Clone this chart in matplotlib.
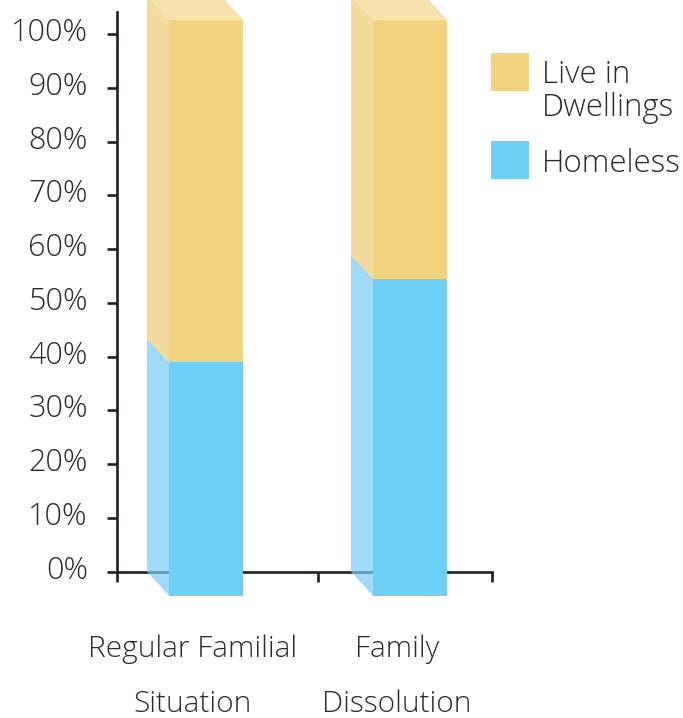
import matplotlib
matplotlib.use("Agg")
import matplotlib.pyplot as plt
from matplotlib.patches import Rectangle, Polygon

# data
categories = ["Regular Familial\nSituation", "Family\nDissolution"]
series_names = ["Homeless", "Live in\nDwellings"]
homeless = [40.5, 55.0]
dwellings = [59.5, 45.0]
ytick_vals = [0, 10, 20, 30, 40, 50, 60, 70, 80, 90, 100]

front_cols = ["#6DCFF6", "#F1D27E"]
side_cols = ["#A0DCF8", "#F4DC9E"]
top_col = "#F5E1AB"
ink = "#231F20"
txt = "#2b2b2b"

plt.rcParams['font.family'] = ['Open Sans', 'DejaVu Sans']

W, H = 683, 718
fig = plt.figure(figsize=(W / 100, H / 100), dpi=100)


def side_color(hexc, a=0.7):
    # colour that looks like hexc on white when drawn with alpha a
    r, g, b = matplotlib.colors.to_rgb(hexc)
    return tuple(max(0, (c - (1 - a)) / a) for c in (r, g, b)), a


# axes frame (pixel layout of the reference)
left, right, bottom, top = 117, 492, 571.7, 11.7
pos = [left / W, 1 - bottom / H, (right - left) / W, (bottom - top) / H]
px_x = 204.0  # pixels per category step
xlim = ((left - 184) / px_x, (right - 184) / px_x)

ax = fig.add_axes(pos)
ax.set_xlim(*xlim)
ax.set_ylim(0, (bottom - top) / 5.375)
for s in ["top", "right"]:
    ax.spines[s].set_visible(False)
for s in ["left", "bottom"]:
    ax.spines[s].set_color(ink)
    ax.spines[s].set_linewidth(1.9)
ax.set_yticks(ytick_vals)
ax.set_yticklabels([f"{v}%" for v in ytick_vals])
ax.set_xticks([xlim[0], (318 - 184) / px_x, xlim[1]])
ax.set_xticklabels([])
ax.tick_params(axis="y", length=7.5, width=1.9, color=ink, pad=13.5,
               labelsize=22, labelcolor=txt)
ax.tick_params(axis="x", length=7.5, width=1.9, color=ink)
for lbl in ax.get_yticklabels():
    lbl.set_fontweight("light")
    lbl.set_transform(lbl.get_transform() + matplotlib.transforms.ScaledTranslation(0, 0.05, fig.dpi_scale_trans))

# bars axes: back face 0..100 spans 576 px
axb = fig.add_axes(pos)
axb.set_xlim(*xlim)
axb.set_ylim(0, (bottom - top) / 5.76)
axb.axis("off")

w = 74 / px_x
dx = 22 / px_x
dy = -24 / 5.76

for i in range(len(categories)):
    x0 = i - w / 2
    segs = [(0, homeless[i]), (homeless[i], homeless[i] + dwellings[i])]
    for k, (b, t) in enumerate(segs):
        sc, a = side_color(side_cols[k])
        axb.add_patch(Polygon([(x0, b), (x0 + dx, b + dy), (x0 + dx, t + dy), (x0, t)],
                              closed=True, facecolor=sc, alpha=a, lw=0, clip_on=False))
        axb.add_patch(Rectangle((x0 + dx, b + dy), w, t - b, facecolor=front_cols[k],
                                lw=0, clip_on=False))
    t = segs[-1][1]
    axb.add_patch(Polygon([(x0, t), (x0 + w, t), (x0 + w + dx, t + dy), (x0 + dx, t + dy)],
                          closed=True, facecolor=top_col, lw=0, clip_on=False))

# category labels
tr = matplotlib.transforms.blended_transform_factory(ax.transData, fig.transFigure)
for i, cat in enumerate(categories):
    for j, line in enumerate(cat.split("\n")):
        ax.text(i + dx * 0.4, 1 - (657 + 55 * j) / H, line, transform=tr,
                ha="center", va="baseline", fontsize=21.5, color=txt,
                fontweight="light")

# legend
leg_y = [141, 53]
leg_base = [[172], [83, 116]]
for k in [1, 0]:
    fig.patches.append(Rectangle((491 / W, 1 - (leg_y[k] + 38) / H), 38 / W, 38 / H,
                                 facecolor=front_cols[k], lw=0, transform=fig.transFigure))
    for j, line in enumerate(series_names[k].split("\n")):
        fig.text(542 / W, 1 - leg_base[k][j] / H, line, ha="left", va="baseline",
                 fontsize=22.5, color=txt, fontweight="light")

fig.savefig("out.png", dpi=100)
